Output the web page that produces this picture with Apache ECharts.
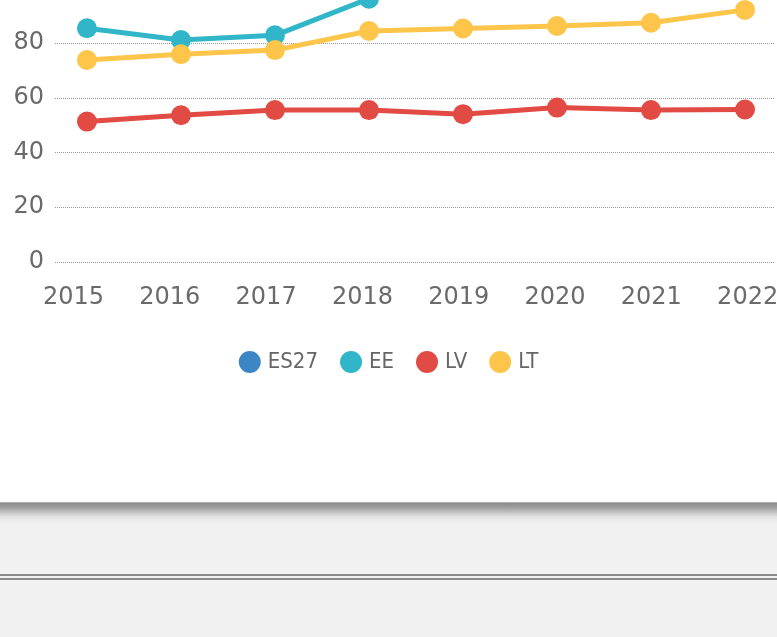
<!DOCTYPE html>
<html style="height: 100%;">
  <head>
    <meta charset="utf-8" />
    <script src="https://cdn.jsdelivr.net/npm/echarts/dist/echarts.min.js"></script>
  </head>
  <body style="height: 100%; margin: 0; position: relative; background: #f1f1f1; overflow: hidden;">
    <div id="container" style="position: absolute; left: 0; top: -120px; width: 777px; height: 622px; background: #fff;"></div>
    <div style="position: absolute; left: 0; top: 502px; width: 777px; height: 22px; background: linear-gradient(#d8d8d8 0px, #8c8c8c 1px, #9c9c9c 5px, #e4e4e4 15px, #f1f1f1 22px);"></div>
    <div style="position: absolute; left: 0; top: 574px; width: 777px; height: 0; border-top: 6px double #8a8a8a;"></div>

    <script type="text/javascript">
      var years = [2015, 2016, 2017, 2018, 2019, 2020, 2021, 2022];
      var es27 = [99.9, 100, 100.8, 101.5, 102.5, 103, 104, 104.5];
      var ee = [85.4, 81.1, 82.8, 96.2, 104.5, 105.5, 106.5, 108];
      var lv = [51.3, 53.6, 55.5, 55.5, 54.0, 56.4, 55.5, 55.7];
      var lt = [73.8, 75.9, 77.4, 84.4, 85.3, 86.2, 87.4, 92.1];
      var colors = ["#3c86c6", "#30b6c8", "#e24a44", "#fec54b"];

      function pairs(vals) {
        return years.map(function (y, i) {
          return [y, vals[i]];
        });
      }

      var dom = document.getElementById("container");
      var myChart = echarts.init(dom);
      var labelFont = {
        fontFamily: "DejaVu Sans",
        fontSize: 24,
        color: "#6a6a6a",
      };
      var option = {
        animation: false,
        color: colors,
        legend: {
          data: ["ES27", "EE", "LV", "LT"],
          top: 466,
          left: "center",
          icon: "circle",
          itemWidth: 22,
          itemHeight: 22,
          itemGap: 22,
          textStyle: {
            fontFamily: "DejaVu Sans Condensed",
            fontSize: 22,
            color: "#666",
            padding: [0, 0, 0, 2],
          },
        },
        grid: {
          left: 55,
          right: 2,
          top: 53.5,
          bottom: 240,
          containLabel: false,
          outerBoundsMode: "none",
        },
        xAxis: [
          {
            type: "value",
            min: 2014.66,
            max: 2022.319,
            axisLine: { show: false },
            axisTick: { show: false },
            axisLabel: { show: false },
            splitLine: { show: false },
          },
          {
            type: "value",
            position: "bottom",
            min: 2014.808,
            max: 2022.284,
            axisLine: { show: false },
            axisTick: { show: false },
            splitLine: { show: false },
            axisLabel: Object.assign(
              {
                customValues: years,
                margin: 24,
                formatter: function (v) {
                  return String(v);
                },
              },
              labelFont
            ),
          },
        ],
        yAxis: {
          type: "value",
          min: 0,
          max: 120,
          interval: 20,
          axisLine: { show: false },
          axisTick: { show: false },
          axisLabel: Object.assign({ margin: 11 }, labelFont),
          splitLine: {
            lineStyle: { color: "#999", type: "dotted", width: 1 },
          },
        },
        series: [
          { name: "ES27", data: pairs(es27) },
          { name: "EE", data: pairs(ee) },
          { name: "LV", data: pairs(lv) },
          { name: "LT", data: pairs(lt) },
        ].map(function (s) {
          return {
            name: s.name,
            type: "line",
            data: s.data,
            symbol: "circle",
            symbolSize: 20,
            lineStyle: { width: 5 },
            itemStyle: { opacity: 1 },
          };
        }),
      };
      myChart.setOption(option);
    </script>
  </body>
</html>
